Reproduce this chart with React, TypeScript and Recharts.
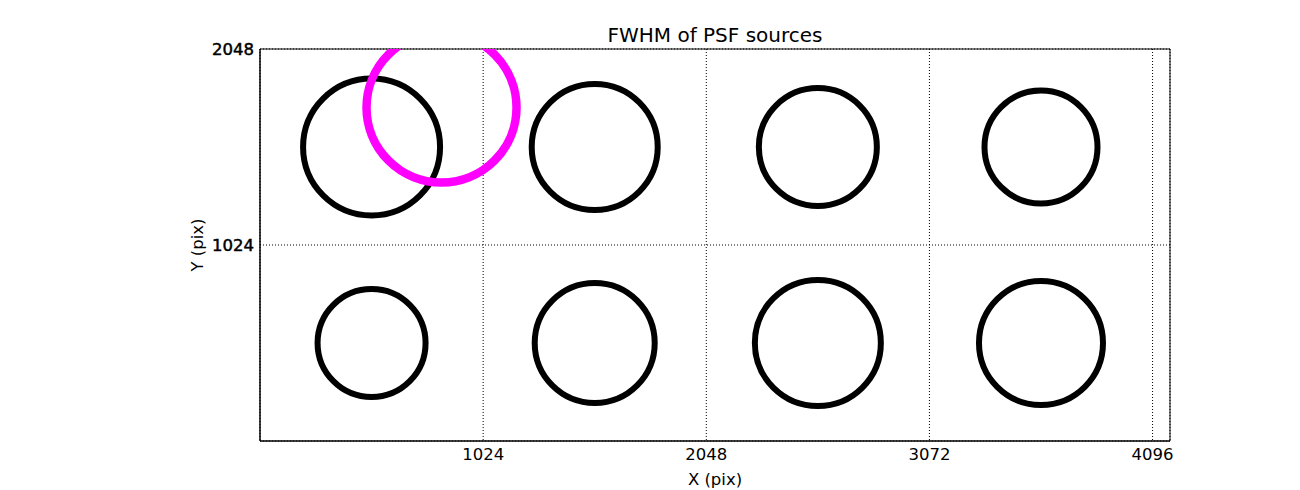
import { ScatterChart, Scatter, XAxis, YAxis, CartesianGrid, ReferenceArea } from "recharts";

const xTicks = [1024, 2048, 3072, 4096];
const yTicks = [1024, 2048];

// PSF source positions (pix) and FWHM circle radius (screen px)
const sourceX = [512, 1536, 2560, 3584, 512, 1536, 2560, 3584];
const sourceY = [1536, 1536, 1536, 1536, 512, 512, 512, 512];
const sourceR = [68.5, 63, 59, 56.5, 54, 60, 63, 62];

const refX = [833];
const refY = [1742];
const refR = [75];

const sources = sourceX.map((x, i) => ({ x, y: sourceY[i], r: sourceR[i] }));
const reference = refX.map((x, i) => ({ x, y: refY[i], r: refR[i] }));

const FONT = "'DejaVu Sans', sans-serif";

const ring = (color: string, width: number) => (props: any) => {
  const { cx, cy, payload } = props;
  if (cx == null || cy == null) return null;
  return <circle cx={cx} cy={cy} r={payload.r} fill="none" stroke={color} strokeWidth={width} />;
};

export default function App() {
  return (
    <div style={{ position: "absolute", left: 0, top: 0, width: 1300, height: 490, background: "#fff" }}>
      <ScatterChart width={1300} height={490} margin={{ top: 49, right: 130, bottom: 0, left: 0 }}>
        <CartesianGrid stroke="#000" strokeWidth={1} strokeDasharray="1 2" />
        <XAxis
          type="number"
          dataKey="x"
          domain={[0, 4176]}
          ticks={xTicks}
          allowDataOverflow
          height={49}
          tickLine={false}
          tickSize={5}
          tickMargin={2}
          axisLine={{ stroke: "#000" }}
          tick={{ fill: "#000", fontSize: 16.5, fontFamily: FONT }}
        />
        <YAxis
          type="number"
          dataKey="y"
          domain={[0, 2048]}
          ticks={yTicks}
          allowDataOverflow
          width={260}
          tickLine={false}
          tickSize={4}
          tickMargin={2}
          axisLine={{ stroke: "#000" }}
          tick={{ fill: "#000", stroke: "#000", strokeWidth: 0.5, fontSize: 16.5, fontFamily: FONT }}
        />
        <Scatter data={sources} shape={ring("#000", 6)} isAnimationActive={false} />
        <Scatter data={reference} shape={ring("#ff00ff", 8.5)} isAnimationActive={false} />
        <ReferenceArea x1={0} x2={4176} y1={0} y2={2048} fill="none" stroke="#000" strokeWidth={1} fillOpacity={0} />
      </ScatterChart>
      <svg width={1300} height={490} style={{ position: "absolute", left: 0, top: 0, pointerEvents: "none" }}>
        <text x={715} y={42} textAnchor="middle" fontSize={20} fontFamily={FONT} fill="#000">
          FWHM of PSF sources
        </text>
        <text x={715} y={485} textAnchor="middle" fontSize={16.5} fontFamily={FONT} fill="#000">
          X (pix)
        </text>
        <text x={203} y={245} textAnchor="middle" fontSize={16.5} fontFamily={FONT} fill="#000" transform="rotate(-90 203 245)">
          Y (pix)
        </text>
      </svg>
    </div>
  );
}
